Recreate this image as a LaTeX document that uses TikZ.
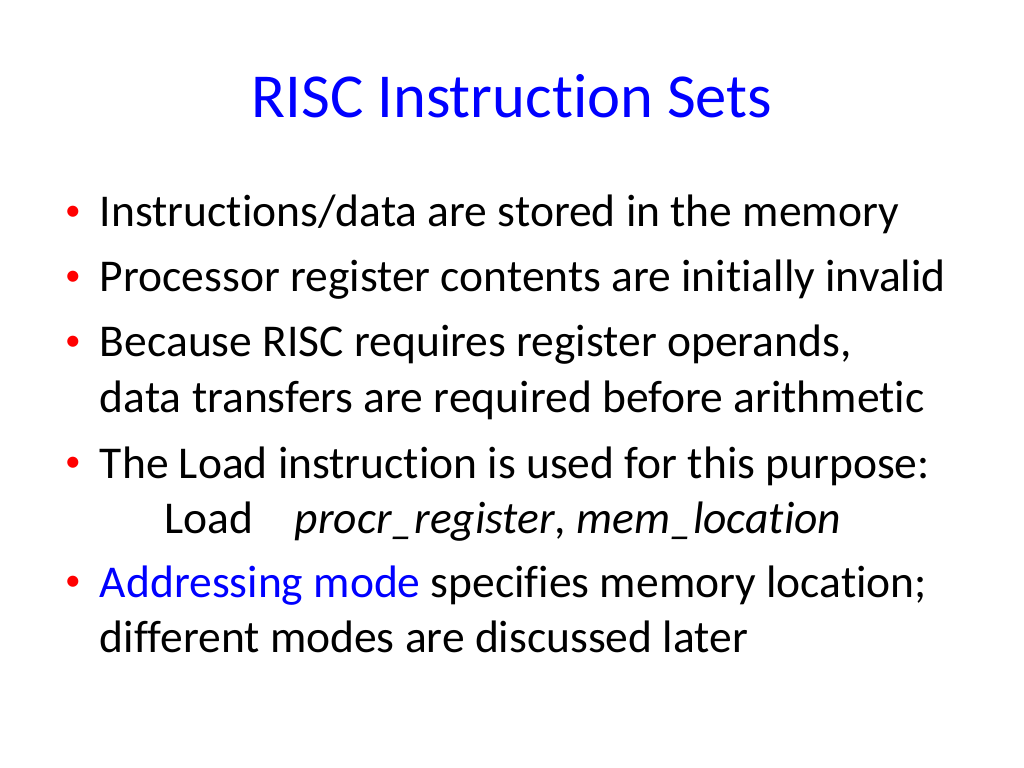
\documentclass[tikz,border=0pt]{standalone}
\usepackage{fontspec}
\setmainfont{Carlito}[Ligatures={NoCommon}]
\usepackage{xcolor}
\usepackage{tikz}
\usetikzlibrary{positioning}
\definecolor{slideblue}{RGB}{0,0,255}
\definecolor{bulletred}{RGB}{255,0,0}

\begin{document}
\begin{tikzpicture}[x=1pt,y=-1pt,every node/.style={inner sep=0pt,outer sep=0pt},
    title node/.style={font=\fontsize{44}{53}\selectfont,text=slideblue,anchor=base},
    line node/.style={font=\fontsize{32}{38}\selectfont,anchor=base west},
    bullet node/.style={font=\fontsize{22}{26}\selectfont,text=bulletred,anchor=base,yshift=4.4pt}]
            \useasboundingbox (0,0) rectangle (720,540);
            \node[title node] (title) at (360,82.3) {RISC Instruction Sets};

            \node[bullet node] (b1) at (51.3,159.6) {•};
            \node[line node] (l1) at (70.3,159.6) {Instructions/data are stored in the memory};
            \node[bullet node] (b2) at (51.3,205.3) {•};
            \node[line node] (l2) at (70.3,205.3) {Processor register contents are initially invalid};
            \node[bullet node] (b3) at (51.3,251.0) {•};
            \node[line node] (l3) at (70.3,251.0) {Because RISC requires register operands,};
            \node[line node] (l3b) at (70.3,289.7) {data transfers are required before arithmetic};
            \node[bullet node] (b4) at (51.3,336.1) {•};
            \node[line node] (l4) at (70.3,336.1) {The Load instruction is used for this purpose:};
            \node[line node] (load) at (115.5,374.8) {Load};
            \node[line node] (operands) at (207.4,374.8) {\textit{procr\_register}, \textit{mem\_location}};
            \node[bullet node] (b5) at (51.3,419.8) {•};
            \node[line node] (l5) at (70.3,419.8) {\textcolor{slideblue}{Addressing mode} specifies memory location;};
            \node[line node] (l5b) at (70.3,459.1) {different modes are discussed later};

            %\node[line node] (note) [below of=l5b] {};
        \end{tikzpicture}
\end{document}
